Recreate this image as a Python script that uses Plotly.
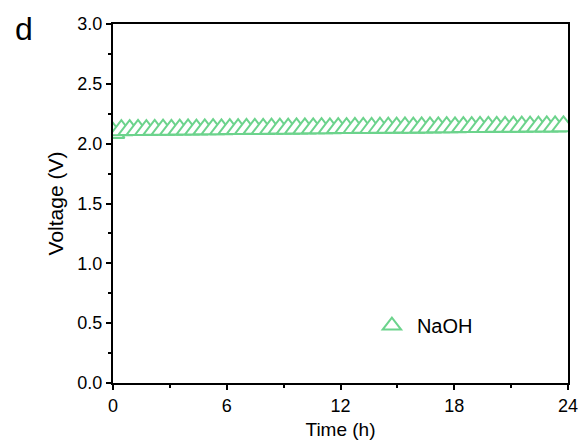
import plotly.graph_objects as go

# Data
time_h = [0, 0.44, 0.88, 1.32, 1.76, 2.2, 2.64, 3.08, 3.52, 3.96, 4.4, 4.84, 5.28,
          5.72, 6.16, 6.6, 7.04, 7.48, 7.92, 8.36, 8.8, 9.24, 9.68, 10.12, 10.56,
          11.0, 11.44, 11.88, 12.32, 12.76, 13.2, 13.64, 14.08, 14.52, 14.96, 15.4,
          15.84, 16.28, 16.72, 17.16, 17.6, 18.04, 18.48, 18.92, 19.36, 19.8, 20.24,
          20.68, 21.12, 21.56, 22.0, 22.44, 22.88, 23.32, 23.76]
voltage_v = [2.090, 2.112, 2.114, 2.115, 2.114, 2.116, 2.117, 2.116, 2.118, 2.119,
             2.118, 2.120, 2.121, 2.120, 2.122, 2.122, 2.123, 2.124, 2.123, 2.125,
             2.126, 2.125, 2.127, 2.127, 2.128, 2.129, 2.128, 2.130, 2.130, 2.131,
             2.132, 2.131, 2.133, 2.133, 2.134, 2.135, 2.134, 2.136, 2.136, 2.137,
             2.138, 2.137, 2.139, 2.139, 2.140, 2.140, 2.141, 2.141, 2.142, 2.142,
             2.143, 2.143, 2.144, 2.144, 2.145]
series_name = "NaOH"
x_ticks = [0, 6, 12, 18, 24]
y_ticks = [0.0, 0.5, 1.0, 1.5, 2.0, 2.5, 3.0]

green = "rgb(108,211,140)"
font_family = "Liberation Sans, Arial, sans-serif"

fig = go.Figure()
fig.add_trace(go.Scatter(
    x=time_h, y=voltage_v, mode="markers", name=series_name,
    marker=dict(symbol="triangle-up", size=20, color="white",
                line=dict(color=green, width=2)),
))

axis_common = dict(
    showline=True, linecolor="black", linewidth=2, mirror=True,
    ticks="outside", ticklen=5, tickwidth=2, tickcolor="black",
    showgrid=False, zeroline=False, automargin=False,
    tickfont=dict(family=font_family, size=18, color="black"),
)

fig.update_layout(
    width=581, height=444,
    margin=dict(l=113, r=13, t=24, b=61),
    paper_bgcolor="white", plot_bgcolor="white",
    font=dict(family=font_family, color="black"),
    showlegend=True,
    legend=dict(x=0.558, y=0.16, xanchor="left", yanchor="middle", itemwidth=40,
                bgcolor="rgba(0,0,0,0)", font=dict(size=20, family=font_family)),
    xaxis=dict(range=[0, 24], tickvals=x_ticks,
               minor=dict(dtick=3, ticklen=3, tickwidth=1.5, tickcolor="black", ticks="outside"),
               title=dict(text="Time (h)", font=dict(size=19, family=font_family), standoff=8),
               **axis_common),
    yaxis=dict(range=[0, 3], tickvals=y_ticks, tickformat=".1f",
               minor=dict(dtick=0.25, ticklen=3, tickwidth=1.5, tickcolor="black", ticks="outside"),
               title=dict(text="Voltage (V)", font=dict(size=21, family=font_family), standoff=8),
               **axis_common),
    annotations=[dict(text="d", xref="paper", yref="paper", x=-0.196, y=0.986,
                      xanchor="center", yanchor="middle", showarrow=False,
                      font=dict(size=32, family=font_family, color="black"))],
)

fig.write_html("out.html", config={"displayModeBar": False},
               post_script="document.body.style.margin='0';")
